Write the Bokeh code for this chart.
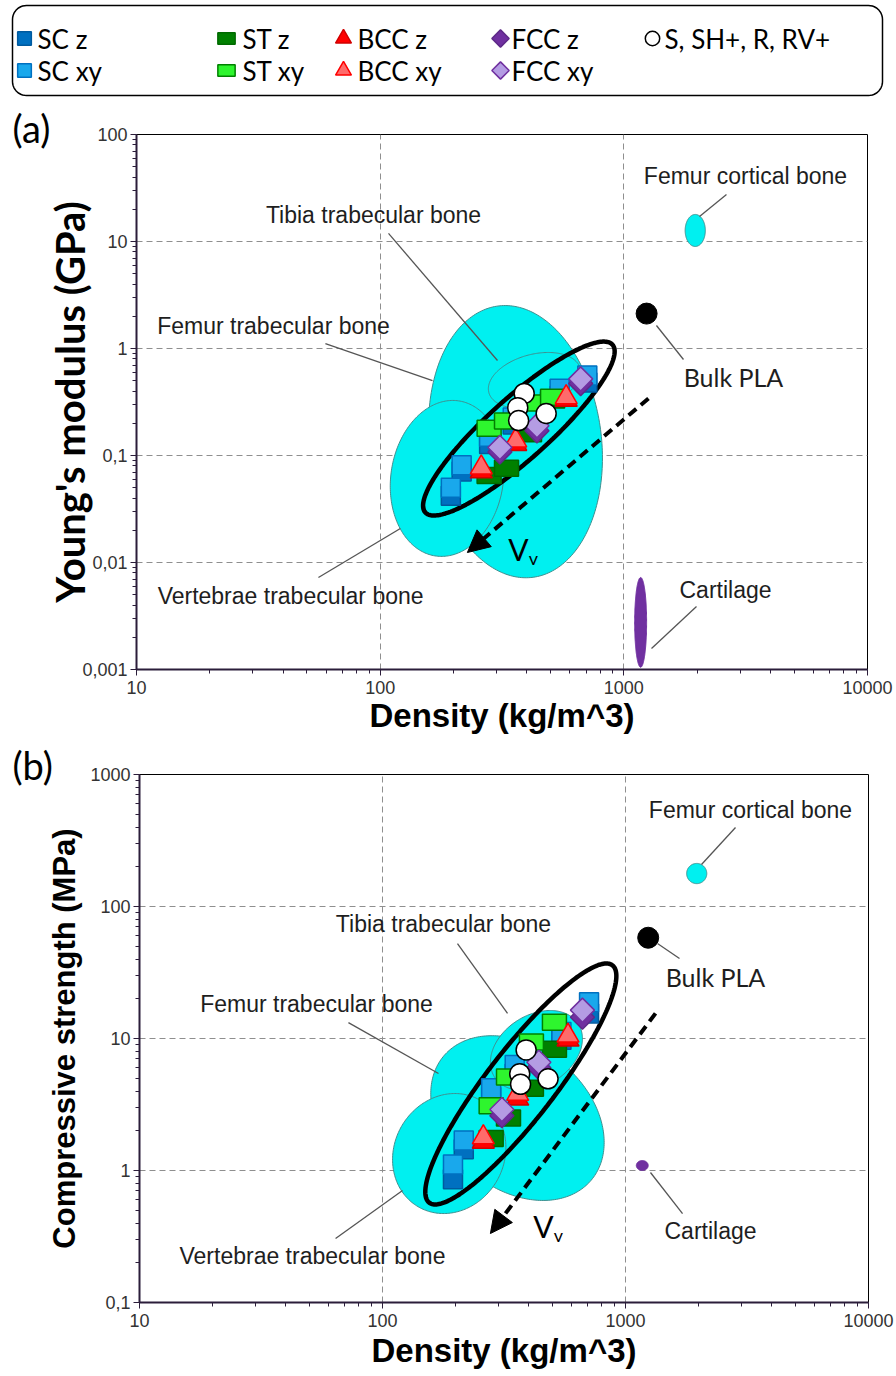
import numpy as np
from bokeh.core.properties import value
from bokeh.embed import file_html
from bokeh.models import Arrow, CustomJSTickFormatter, FixedTicker, Label, NormalHead, Range1d
from bokeh.plotting import figure
from bokeh.resources import INLINE

# ---------------------------------------------------------------------------
# Printed lattice specimens: density (kg/m^3), Young's modulus (GPa),
# compressive strength (MPa)
# ---------------------------------------------------------------------------
SC_DENSITY = [195, 216, 280, 350, 545, 708]
SC_Z_MODULUS = [0.042, 0.071, 0.128, 0.195, 0.36, 0.48]
SC_XY_MODULUS = [0.050, 0.081, 0.150, 0.226, 0.42, 0.56]
SC_Z_STRENGTH = [0.86, 1.45, 3.6, 5.4, 9.8, 15.5]
SC_XY_STRENGTH = [1.11, 1.69, 4.2, 6.3, 11.2, 18.8]

ST_DENSITY = [280, 330, 410, 510]
ST_Z_MODULUS = [0.065, 0.076, 0.16, 0.33]
ST_XY_MODULUS = [0.18, 0.21, 0.31, 0.35]
ST_Z_STRENGTH = [1.75, 2.5, 4.2, 8.3]
ST_XY_STRENGTH = [3.1, 5.1, 9.4, 13.3]

BCC_DENSITY = [260, 360, 580]
BCC_Z_MODULUS = [0.071, 0.128, 0.33]
BCC_XY_MODULUS = [0.077, 0.138, 0.35]
BCC_Z_STRENGTH = [1.65, 3.5, 9.8]
BCC_XY_STRENGTH = [1.78, 3.8, 10.5]

FCC_DENSITY = [310, 440, 665]
FCC_Z_MODULUS = [0.108, 0.17, 0.47]
FCC_XY_MODULUS = [0.119, 0.19, 0.52]
FCC_Z_STRENGTH = [2.6, 6.0, 14.5]
FCC_XY_STRENGTH = [2.9, 6.6, 16.4]

OTHER_DENSITY = [390, 367, 370, 480]          # S, SH+, R, RV+
OTHER_MODULUS = [0.38, 0.28, 0.212, 0.247]
OTHER_STRENGTH = [8.2, 5.4, 4.5, 4.95]

BULK_PLA_DENSITY = [1240]
BULK_PLA_MODULUS = [2.12]
BULK_PLA_STRENGTH = [58]

# Tissue property envelopes: [min, max]
VERT_TRAB_DENSITY = [110, 322]
VERT_TRAB_MODULUS = [0.0114, 0.327]
VERT_TRAB_STRENGTH = [0.472, 3.83]
FEMUR_TRAB_DENSITY = [158, 817]
FEMUR_TRAB_MODULUS = [0.0072, 2.52]
FEMUR_TRAB_STRENGTH = [0.593, 10.5]
TIBIA_TRAB_DENSITY = [278, 665]
TIBIA_TRAB_MODULUS = [0.275, 0.918]
TIBIA_TRAB_STRENGTH = [4.04, 16.3]
FEMUR_CORT_DENSITY = [1785, 2160]
FEMUR_CORT_MODULUS = [8.98, 17.9]
FEMUR_CORT_STRENGTH = [149, 212]
CARTILAGE_DENSITY = [1108, 1240]
CARTILAGE_MODULUS = [0.00105, 0.00724]
CARTILAGE_STRENGTH = [1.0, 1.19]

# Envelope enclosing all printed lattices
LATTICE_DENSITY = [150, 917]
LATTICE_MODULUS = [0.0275, 1.16]
LATTICE_STRENGTH = [0.553, 37.0]

X_TICKS = [10, 100, 1000, 10000]
Y_TICKS_MODULUS = [0.001, 0.01, 0.1, 1, 10, 100]
Y_TICKS_STRENGTH = [0.1, 1, 10, 100, 1000]

SERIES = ["SC z", "SC xy", "ST z", "ST xy", "BCC z", "BCC xy", "FCC z", "FCC xy",
          "S, SH+, R, RV+"]
DENSITY = {"SC z": SC_DENSITY, "SC xy": SC_DENSITY, "ST z": ST_DENSITY, "ST xy": ST_DENSITY,
           "BCC z": BCC_DENSITY, "BCC xy": BCC_DENSITY, "FCC z": FCC_DENSITY,
           "FCC xy": FCC_DENSITY, "S, SH+, R, RV+": OTHER_DENSITY}
MODULUS = {"SC z": SC_Z_MODULUS, "SC xy": SC_XY_MODULUS, "ST z": ST_Z_MODULUS,
           "ST xy": ST_XY_MODULUS, "BCC z": BCC_Z_MODULUS, "BCC xy": BCC_XY_MODULUS,
           "FCC z": FCC_Z_MODULUS, "FCC xy": FCC_XY_MODULUS, "S, SH+, R, RV+": OTHER_MODULUS}
STRENGTH = {"SC z": SC_Z_STRENGTH, "SC xy": SC_XY_STRENGTH, "ST z": ST_Z_STRENGTH,
            "ST xy": ST_XY_STRENGTH, "BCC z": BCC_Z_STRENGTH, "BCC xy": BCC_XY_STRENGTH,
            "FCC z": FCC_Z_STRENGTH, "FCC xy": FCC_XY_STRENGTH,
            "S, SH+, R, RV+": OTHER_STRENGTH}

# ---------------------------------------------------------------------------
# Styling
# ---------------------------------------------------------------------------
ARIAL = "Liberation Sans"
CALIBRI = "Lato"
AXIS_INK = "#2b1d3a"
CYAN = "#00F0F0"
CYAN_EDGE = "#3f8f8f"
FILL_PURPLE = "#7030A0"

STYLE = {
    "SC z": dict(kind="square", fill="#0070C0", line="#005A9E"),
    "SC xy": dict(kind="square", fill="#19A8EC", line="#0070C0"),
    "ST z": dict(kind="rect", fill="#008000", line="#006A00"),
    "ST xy": dict(kind="rect", fill="#2EF52E", line="#008000"),
    "BCC z": dict(kind="triangle", fill="#FF0000", line="#D00000"),
    "BCC xy": dict(kind="triangle", fill="#FF6B6B", line="#FF0000"),
    "FCC z": dict(kind="diamond", fill="#7030A0", line="#5E2A88"),
    "FCC xy": dict(kind="diamond", fill="#B49CE3", line="#7030A0"),
    "S, SH+, R, RV+": dict(kind="circle", fill="white", line="black"),
}


def draw_marker(p, xs, ys, style, scale=1.0):
    kind = style["kind"]
    common = dict(fill_color=style["fill"], line_color=style["line"], line_width=1.5)
    if kind == "rect":
        p.rect(xs, ys, width=24 * scale, height=16 * scale, width_units="screen",
               height_units="screen", **common)
    elif kind == "square":
        p.scatter(xs, ys, marker="square", size=19 * scale, **common)
    elif kind == "triangle":
        p.scatter(xs, ys, marker="triangle", size=22 * scale, **common)
    elif kind == "diamond":
        p.scatter(xs, ys, marker="square", angle=np.pi / 4, size=17 * scale, **common)
    else:
        p.scatter(xs, ys, marker="circle", size=20 * scale, **common)


def envelope(dens, vals, tilt, n=240):
    """Ellipse inscribed in the log-log box dens x vals, sheared by `tilt`."""
    lx, ly = np.log10(dens), np.log10(vals)
    cx, ax = lx.mean(), (lx[1] - lx[0]) / 2
    cy, ay = ly.mean(), (ly[1] - ly[0]) / 2
    t = np.linspace(0, 2 * np.pi, n)
    return 10 ** (cx + ax * np.cos(t)), 10 ** (cy + ay * np.sin(t + tilt))


def minors(e0, e1):
    return [m * 10.0 ** e for e in range(e0, e1) for m in range(2, 10)]


def comma_formatter():
    return CustomJSTickFormatter(
        code="return parseFloat(tick.toPrecision(6)).toString().replace('.', ',');")


def make_panel(y_range, y_ticks, y_minor, y_label, y_font, y_size, y_standoff,
               frame_w, frame_h, left, right, top, bottom, x_standoff):
    p = figure(x_axis_type="log", y_axis_type="log",
               x_range=Range1d(10, 10000), y_range=Range1d(*y_range),
               frame_width=frame_w, frame_height=frame_h,
               min_border_left=left, min_border_right=right,
               min_border_top=top, min_border_bottom=bottom,
               toolbar_location=None, output_backend="svg")
    p.outline_line_color = "black"
    p.outline_line_width = 1

    xa, ya = p.xaxis[0], p.yaxis[0]
    xa.ticker = FixedTicker(ticks=X_TICKS, minor_ticks=minors(1, 4))
    ya.ticker = FixedTicker(ticks=y_ticks, minor_ticks=y_minor)
    for ax in (xa, ya):
        ax.formatter = comma_formatter()
        ax.axis_line_color = AXIS_INK
        ax.axis_line_width = 2
        ax.major_tick_line_color = AXIS_INK
        ax.minor_tick_line_color = AXIS_INK
        ax.major_tick_out = 6
        ax.major_tick_in = 0
        ax.minor_tick_out = 4
        ax.minor_tick_in = 0
        ax.major_label_text_font = ARIAL
        ax.major_label_text_font_size = "18px"
        ax.major_label_text_color = "#333333"
    xa.major_label_standoff = 5
    ya.major_label_standoff = 3
    xa.axis_label = "Density (kg/m^3)"
    xa.axis_label_text_font = ARIAL
    xa.axis_label_text_font_style = "bold"
    xa.axis_label_text_font_size = "33px"
    xa.axis_label_text_color = "black"
    xa.axis_label_standoff = x_standoff
    ya.axis_label = y_label
    ya.axis_label_text_font = y_font
    ya.axis_label_text_font_style = "bold"
    ya.axis_label_text_font_size = y_size
    ya.axis_label_text_color = "black"
    ya.axis_label_standoff = y_standoff

    p.xgrid.ticker = FixedTicker(ticks=[100, 1000])
    p.ygrid.ticker = FixedTicker(ticks=y_ticks[1:-1])
    for g in (p.xgrid[0], p.ygrid[0]):
        g.grid_line_color = "#8f8f8f"
        g.grid_line_dash = "6 4"
        g.grid_line_width = 1
    return p


def draw_content(p, prop, regions, envelope_vals, envelope_tilt, pla_vals, notes):
    # tissue regions
    for dens, vals, tilt, fill in regions:
        xs, ys = envelope(dens, vals, tilt)
        p.patch(xs, ys, fill_color=fill, line_color=CYAN_EDGE if fill == CYAN else fill,
                line_width=1)
    # lattice envelope
    xs, ys = envelope(LATTICE_DENSITY, envelope_vals, envelope_tilt)
    p.line(xs, ys, line_color="black", line_width=4.5)
    # specimens
    for name in SERIES:
        draw_marker(p, DENSITY[name], prop[name], STYLE[name])
    p.scatter(BULK_PLA_DENSITY, pla_vals, marker="circle", size=21, fill_color="black",
              line_color="black")

    # callouts
    p.segment([n["lead"][0] for n in notes], [n["lead"][1] for n in notes],
              [n["lead"][2] for n in notes], [n["lead"][3] for n in notes],
              line_color="#555555", line_width=1.3)
    for n in notes:
        p.text([n["at"][0]], [n["at"][1]], text=[n["text"]], text_font=value(n["font"]),
               text_font_size=n["size"], text_align="center", text_baseline="middle",
               text_color="#1e1e1e")


def draw_vv(p, x, y):
    p.text([x], [y], text=["V"], text_font=value(CALIBRI), text_font_size="30px",
           text_align="center", text_baseline="middle", text_color="black")
    p.text([x], [y], text=["v"], text_font=value(CALIBRI), text_font_size="18px",
           text_align="center", text_baseline="middle", text_color="black",
           x_offset=15, y_offset=9)


def panel_tag(p, text, x, y):
    # placed in the left side panel so it is not clipped to the frame
    p.add_layout(Label(x=x, y=y, text=text, text_font=CALIBRI, text_font_size="38px",
                       text_baseline="middle", text_align="left", text_color="black"),
                 "left")


# ---------------------------------------------------------------------------
# Legend strip
# ---------------------------------------------------------------------------
legend = figure(width=896, height=100, x_range=Range1d(0, 896), y_range=Range1d(100, 0),
                min_border=0, toolbar_location=None, output_backend="svg",
                x_axis_location=None, y_axis_location=None)
legend.grid.visible = False
legend.outline_line_color = None

# rounded frame
r, x0, x1, y0, y1 = 14, 12, 882, 5, 95
arc = np.linspace(0, np.pi / 2, 12)
bx = np.concatenate([x1 - r + r * np.sin(arc), x1 - r + r * np.cos(arc),
                     x0 + r - r * np.sin(arc), x0 + r - r * np.cos(arc)])
by = np.concatenate([y0 + r - r * np.cos(arc), y1 - r + r * np.sin(arc),
                     y1 - r + r * np.cos(arc), y0 + r - r * np.sin(arc)])
legend.patch(bx, by, fill_color="white", line_color="black", line_width=1.5)

legend_cols = [(24, 37), (226, 242), (343, 357), (500, 511), (652, 664)]
legend_rows = [38, 70]
for i, name in enumerate(SERIES):
    col, row = i // 2, i % 2
    mx, tx = legend_cols[col]
    y = legend_rows[row]
    draw_marker(legend, [mx], [y], STYLE[name], scale=0.72)
    legend.text([tx], [y], text=[name], text_font=value(CALIBRI), text_font_size="26px",
                text_baseline="middle", text_align="left", text_color="black")

# ---------------------------------------------------------------------------
# (a) Young's modulus
# ---------------------------------------------------------------------------
pa = make_panel((0.001, 100), Y_TICKS_MODULUS, minors(-3, 2), "Young's modulus (GPa)",
                CALIBRI, "40px", -15, 731, 535, 136, 29, 34, 72, 0)
draw_content(
    pa, MODULUS,
    [(FEMUR_TRAB_DENSITY, FEMUR_TRAB_MODULUS, -0.12, CYAN),
     (VERT_TRAB_DENSITY, VERT_TRAB_MODULUS, 0.1, CYAN),
     (TIBIA_TRAB_DENSITY, TIBIA_TRAB_MODULUS, 0.3, CYAN),
     (FEMUR_CORT_DENSITY, FEMUR_CORT_MODULUS, 0.0, CYAN),
     (CARTILAGE_DENSITY, CARTILAGE_MODULUS, 0.0, FILL_PURPLE)],
    LATTICE_MODULUS, 1.09, BULK_PLA_MODULUS,
    [dict(text="Tibia trabecular bone", at=(93.9, 17.5), lead=(108.2, 11.9, 303, 0.772),
          font=ARIAL, size="23px"),
     dict(text="Femur trabecular bone", at=(36.5, 1.64), lead=(59.6, 1.11, 164, 0.502),
          font=ARIAL, size="23px"),
     dict(text="Vertebrae trabecular bone", at=(42.9, 0.00491),
          lead=(55.8, 0.00724, 121, 0.0208), font=ARIAL, size="23px"),
     dict(text="Femur cortical bone", at=(3157, 40.9), lead=(2638, 27.5, 2045, 17.1),
          font=ARIAL, size="23px"),
     dict(text="Bulk PLA", at=(2818, 0.536), lead=(1361, 1.64, 1757, 0.789),
          font=CALIBRI, size="25px"),
     dict(text="Cartilage", at=(2614, 0.00559), lead=(1987, 0.00388, 1299, 0.00157),
          font=ARIAL, size="23px")])
pa.add_layout(Arrow(end=NormalHead(size=22, fill_color="black", line_color="black"),
                    x_start=1262, y_start=0.341, x_end=228, y_end=0.0124,
                    line_width=4, line_dash="10 6", line_color="black"))
draw_vv(pa, 369.6, 0.0135)
panel_tag(pa, "(a)", 3.1, 113.8)

# ---------------------------------------------------------------------------
# (b) Compressive strength
# ---------------------------------------------------------------------------
pb = make_panel((0.1, 1000), Y_TICKS_STRENGTH, minors(-1, 3), "Compressive strength (MPa)",
                ARIAL, "31px", 5, 729, 528, 139, 28, 33, 74, 2)
draw_content(
    pb, STRENGTH,
    [(FEMUR_TRAB_DENSITY, FEMUR_TRAB_STRENGTH, -0.3, CYAN),
     (VERT_TRAB_DENSITY, VERT_TRAB_STRENGTH, 0.1, CYAN),
     (TIBIA_TRAB_DENSITY, TIBIA_TRAB_STRENGTH, 0.3, CYAN),
     (FEMUR_CORT_DENSITY, FEMUR_CORT_STRENGTH, 0.0, CYAN),
     (CARTILAGE_DENSITY, CARTILAGE_STRENGTH, 0.0, FILL_PURPLE)],
    LATTICE_STRENGTH, 1.11, BULK_PLA_STRENGTH,
    [dict(text="Tibia trabecular bone", at=(178.2, 73.1), lead=(203.5, 52.4, 327, 15.5),
          font=ARIAL, size="23px"),
     dict(text="Femur trabecular bone", at=(53.5, 18.1), lead=(72.4, 13.2, 170, 5.43),
          font=ARIAL, size="23px"),
     dict(text="Vertebrae trabecular bone", at=(51.5, 0.227), lead=(64.1, 0.305, 120.9, 0.706),
          font=ARIAL, size="23px"),
     dict(text="Femur cortical bone", at=(3268, 543), lead=(2836, 397, 2055, 208),
          font=ARIAL, size="23px"),
     dict(text="Bulk PLA", at=(2346, 29.0), lead=(1354, 52.4, 1668, 40.4),
          font=CALIBRI, size="25px"),
     dict(text="Cartilage", at=(2238, 0.351), lead=(1267, 0.966, 1717, 0.472),
          font=ARIAL, size="23px")])
pb.add_layout(Arrow(end=NormalHead(size=22, fill_color="black", line_color="black"),
                    x_start=1329, y_start=15.5, x_end=278, y_end=0.333,
                    line_width=4, line_dash="10 6", line_color="black"))
draw_vv(pb, 459.8, 0.383)
panel_tag(pb, "(b)", 3.0, 1170)

open("out.html", "w").write(file_html([legend, pa, pb], INLINE))
